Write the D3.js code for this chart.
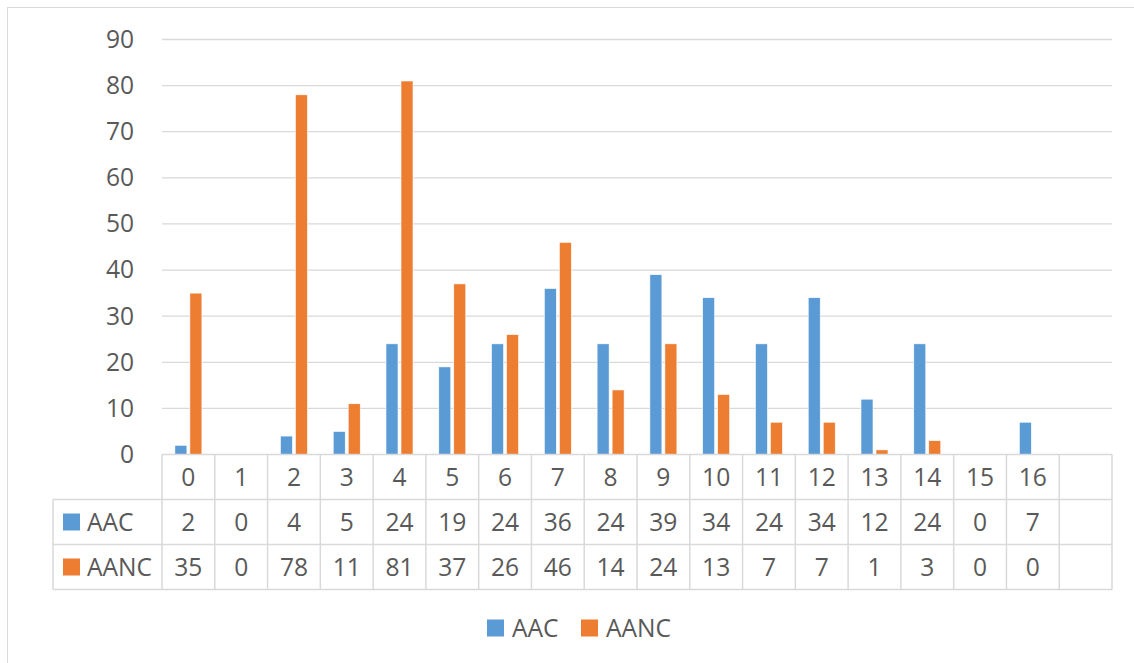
<!DOCTYPE html>
<html>
<head>
<meta charset="utf-8">
<script src="https://cdn.jsdelivr.net/npm/d3@7"></script>
<style>
  body { margin: 0; background: #fff; }
  text { font-family: "Open Sans", sans-serif; fill: #595959; }
</style>
</head>
<body>
<svg id="chart"></svg>
<script>
// Data
const categories = ["0", "1", "2", "3", "4", "5", "6", "7", "8", "9", "10", "11", "12", "13", "14", "15", "16", ""];
const seriesNames = ["AAC", "AANC"];
const aac = [2, 0, 4, 5, 24, 19, 24, 36, 24, 39, 34, 24, 34, 12, 24, 0, 7];
const aanc = [35, 0, 78, 11, 81, 37, 26, 46, 14, 24, 13, 7, 7, 1, 3, 0, 0];
const yTicks = [0, 10, 20, 30, 40, 50, 60, 70, 80, 90];
const colors = {AAC: "#5B9BD5", AANC: "#ED7D31"};

// canvas
let width = 1134;
let height = 663;
let plot = {left: 162, right: 1112, top: 39.5, bottom: 454.5};
let rowH = 45;
let headerLeft = 53;
let gridColor = "#d9d9d9";
let fontSize = 24.6;

let svg = d3.select('#chart')
    .attr('width', width)
    .attr('height', height);

// outer frame (runs off the picture at right and bottom)
svg.append('rect')
    .attr('x', 7.5).attr('y', 7.5)
    .attr('width', width + 20).attr('height', height + 20)
    .attr('fill', 'none')
    .attr('stroke', gridColor);

// scales
let xScale = d3.scaleBand()
    .domain(categories)
    .range([plot.left, plot.right]);
let bw = xScale.bandwidth();
let xInner = d3.scaleBand()
    .domain(seriesNames)
    .range([bw / 2 - 13.5, bw / 2 + 13.5])
    .paddingInner(0.2);
let yScale = d3.scaleLinear()
    .domain([0, 90])
    .range([plot.bottom, plot.top]);

// gridlines
svg.append('g')
    .selectAll('line')
    .data(yTicks.slice(1))
    .enter()
    .append('line')
    .attr('x1', plot.left).attr('x2', plot.right)
    .attr('y1', d => yScale(d)).attr('y2', d => yScale(d))
    .attr('stroke', gridColor)
    .attr('stroke-width', 1.3);

// y axis labels
let yAxis = d3.axisLeft(yScale).tickValues(yTicks).tickSize(0).tickPadding(0);
let gY = svg.append('g')
    .attr('transform', 'translate(134, 0)')
    .call(yAxis);
gY.select('.domain').remove();
gY.selectAll('text')
    .attr('font-size', fontSize)
    .attr('fill', '#595959')
    .style('font-family', '"Open Sans", sans-serif');

// bars
let rows = categories.map((c, i) => ({cat: c, AAC: aac[i], AANC: aanc[i]}));
let groups = svg.append('g')
    .selectAll('g')
    .data(rows.filter(r => r.AAC !== undefined))
    .enter()
    .append('g')
    .attr('transform', d => 'translate(' + xScale(d.cat) + ',0)');

groups.selectAll('rect')
    .data(d => seriesNames.map(s => ({key: s, value: d[s]})))
    .enter()
    .append('rect')
    .filter(d => d.value > 0)
    .attr('x', d => xInner(d.key))
    .attr('width', xInner.bandwidth())
    .attr('y', d => yScale(d.value))
    .attr('height', d => yScale(0) - yScale(d.value))
    .attr('fill', d => colors[d.key])
    .attr('stroke', '#fff')
    .attr('stroke-width', 0.6);

// data table
let table = svg.append('g');
let tTop = plot.bottom;
// horizontal lines
table.append('line')
    .attr('x1', plot.left).attr('x2', plot.right)
    .attr('y1', tTop).attr('y2', tTop)
    .attr('stroke', gridColor).attr('stroke-width', 1.5);
[1, 2, 3].forEach(r => {
    table.append('line')
        .attr('x1', headerLeft).attr('x2', plot.right)
        .attr('y1', tTop + r * rowH).attr('y2', tTop + r * rowH)
        .attr('stroke', gridColor).attr('stroke-width', 1.5);
});
// vertical lines
let vx = categories.map(c => xScale(c)).concat([plot.right]);
table.selectAll('.vline')
    .data(vx)
    .enter()
    .append('line')
    .attr('class', 'vline')
    .attr('x1', d => d).attr('x2', d => d)
    .attr('y1', tTop).attr('y2', tTop + 3 * rowH)
    .attr('stroke', gridColor).attr('stroke-width', 1.5);
table.append('line')
    .attr('x1', headerLeft).attr('x2', headerLeft)
    .attr('y1', tTop + rowH).attr('y2', tTop + 3 * rowH)
    .attr('stroke', gridColor).attr('stroke-width', 1.5);

// category labels
table.selectAll('.cat')
    .data(categories)
    .enter()
    .append('text')
    .attr('class', 'cat')
    .attr('x', d => xScale(d) + bw / 2)
    .attr('y', tTop + rowH / 2)
    .attr('dy', '0.35em')
    .attr('text-anchor', 'middle')
    .attr('font-size', fontSize)
    .text(d => d);

// series rows
let seriesValues = {AAC: aac, AANC: aanc};
seriesNames.forEach((s, r) => {
    let cy = tTop + rowH * (r + 1) + rowH / 2;
    table.append('rect')
        .attr('x', 63).attr('y', cy - 8.5)
        .attr('width', 17).attr('height', 17)
        .attr('fill', colors[s]);
    table.append('text')
        .attr('x', 87).attr('y', cy)
        .attr('dy', '0.35em')
        .attr('font-size', fontSize)
        .text(s);
    table.selectAll('.v' + s)
        .data(seriesValues[s])
        .enter()
        .append('text')
        .attr('x', (d, i) => xScale(categories[i]) + bw / 2)
        .attr('y', cy)
        .attr('dy', '0.35em')
        .attr('text-anchor', 'middle')
        .attr('font-size', fontSize)
        .text(d => d);
});

// legend
let legend = svg.append('g').attr('transform', 'translate(0, 628)');
let legendX = {AAC: 487, AANC: 581};
seriesNames.forEach(s => {
    legend.append('rect')
        .attr('x', legendX[s]).attr('y', -8.5)
        .attr('width', 17).attr('height', 17)
        .attr('fill', colors[s]);
    legend.append('text')
        .attr('x', legendX[s] + 25).attr('y', 0)
        .attr('dy', '0.35em')
        .attr('font-size', fontSize)
        .text(s);
});
</script>
</body>
</html>
